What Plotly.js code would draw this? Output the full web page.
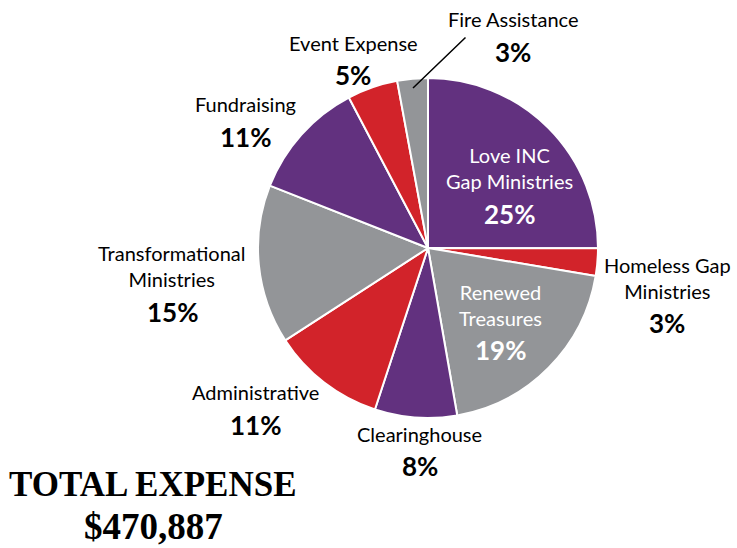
<!DOCTYPE html>
<html><head><meta charset="utf-8">
<script src="https://cdn.plot.ly/plotly-3.0.1.min.js"></script>
<style>html,body{margin:0;padding:0;background:#fff}#chart{width:737px;height:548px}</style>
</head><body><div id="chart"></div>
<script>
const categories = ["Love INC<br>Gap Ministries","Homeless Gap<br>Ministries","Renewed<br>Treasures","Clearinghouse","Administrative","Transformational<br>Ministries","Fundraising","Event Expense","Fire Assistance"];
const shares = [25.0, 2.6, 19.6, 7.8, 10.8, 15.1, 11.3, 4.8, 2.9];
const pctLabels = ["25%","3%","19%","8%","11%","15%","11%","5%","3%"];
const colors = ["#62317f","#d2232a","#939598","#62317f","#d2232a","#939598","#62317f","#d2232a","#939598"];
const totalLabel = "TOTAL EXPENSE";
const totalValue = "$470,887";

const W = 737, H = 548;
const px = x => x / W, py = y => 1 - y / H;
// label positions (pixels): x, name-block centre y, percent centre y, colour
const labelPos = [
  [510,168,214,"#fff"],[667,278,323,"#000"],[500,305,350,"#fff"],[420,434,466,"#000"],
  [256,392,425,"#000"],[172,266,312,"#000"],[245,104,137,"#000"],[353,43,75,"#000"],[513,19,52,"#000"]];

const annotations = [];
categories.forEach((c,i)=>{
  const p = labelPos[i];
  annotations.push({x:px(p[0]), y:py(p[1]), xref:'paper', yref:'paper', xanchor:'center', yanchor:'middle',
    showarrow:false, align:'center', text:c, font:{family:'Lato, sans-serif', size:20, color:p[3]}});
  annotations.push({x:px(p[0]), y:py(p[2]), xref:'paper', yref:'paper', xanchor:'center', yanchor:'middle',
    showarrow:false, align:'center', text:'<b>'+pctLabels[i]+'</b>', font:{family:'Lato, sans-serif', size:26, color:p[3]}});
});
annotations.push({
  x: px(413), y: py(88), ax: px(467), ay: py(36), xref:'paper', yref:'paper', axref:'paper', ayref:'paper',
  showarrow:true, arrowhead:0, arrowwidth:1.5, arrowcolor:'#000', text:''
});
annotations.push({x:px(153), y:py(484), xref:'paper', yref:'paper', xanchor:'center', yanchor:'middle', showarrow:false,
  text:'<b>'+totalLabel+'</b>', font:{family:'Liberation Serif, serif', size:35, color:'#000'}});
annotations.push({x:px(153), y:py(526), xref:'paper', yref:'paper', xanchor:'center', yanchor:'middle', showarrow:false,
  text:'<b>'+totalValue+'</b>', font:{family:'Liberation Serif, serif', size:37, color:'#000'}});

Plotly.newPlot('chart', [{
  type:'pie', values: shares, labels: categories, sort:false, direction:'clockwise', rotation:0,
  marker:{colors: colors, line:{color:'#fff', width:2}}, textinfo:'none', hoverinfo:'none',
  domain:{x:[(428-170)/W,(428+170)/W], y:[(H-248-170)/H,(H-248+170)/H]}
}], {
  width:W, height:H, margin:{l:0,r:0,t:0,b:0}, showlegend:false,
  paper_bgcolor:'#fff', annotations: annotations
}, {staticPlot:true});
</script></body></html>
